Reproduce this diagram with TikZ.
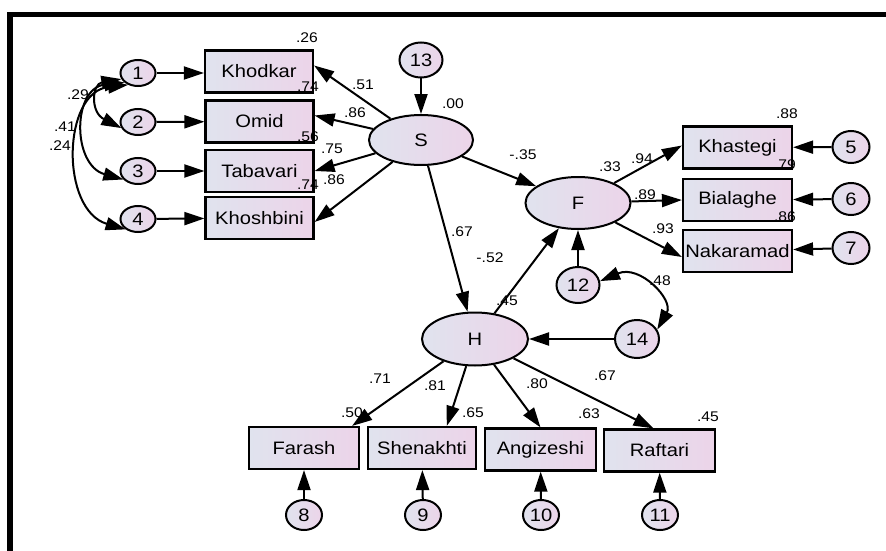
\documentclass[tikz,border=0pt]{standalone}
\usepackage{fontspec}
\setmainfont[FakeStretch=1.12]{Liberation Sans}
\usetikzlibrary{arrows.meta,shapes.geometric,calc}
\definecolor{bl}{RGB}{224,227,238}
\definecolor{pk}{RGB}{236,212,233}
\begin{document}
\begin{tikzpicture}[x=1pt,y=-1pt,
  obs/.style={draw, line width=2.2pt, rectangle, inner sep=0pt, minimum width=108pt, minimum height=42pt, left color=bl, right color=pk, font=\fontsize{18}{18}\selectfont},
  err/.style={draw, line width=2pt, ellipse, inner sep=0pt, minimum width=36pt, minimum height=30pt, left color=bl, right color=pk, font=\fontsize{18}{18}\selectfont},
  lat/.style={draw, line width=2pt, ellipse, inner sep=0pt, minimum width=105pt, minimum height=52pt, left color=bl, right color=pk, font=\fontsize{18}{18}\selectfont},
  lbl/.style={font=\fontsize{14}{14}\selectfont, inner sep=0pt},
  arr/.style={line width=2pt, -{Triangle[length=20pt,width=13pt]}},
  dbl/.style={line width=2pt, {Triangle[length=20pt,width=13pt]}-{Triangle[length=20pt,width=13pt]}}]
\useasboundingbox (0,0) rectangle (886,551);
\draw[line width=5.5pt] (10,551) -- (10,14.5) -- (886,14.5);

% observed boxes
\node[obs] (Kh) at (259,71.5) {Khodkar};
\node[obs] (Om) at (259.5,121.5) {Omid};
\node[obs] (Tb) at (259.5,171) {Tabavari};
\node[obs] (Ks) at (259.5,218) {Khoshbini};
\node[obs,minimum width=109pt] (Kg) at (737.5,147.5) {Khastegi};
\node[obs,minimum width=109pt] (Bi) at (737.5,200) {Bialaghe};
\node[obs,minimum width=109pt] (Nk) at (737.5,251) {Nakaramad};
\node[obs,minimum width=110pt] (Fa) at (304,448) {Farash};
\node[obs] (Sh) at (422,448) {Shenakhti};
\node[obs,minimum width=111pt] (Ag) at (540.5,449.5) {Angizeshi};
\node[obs,minimum width=111pt] (Rf) at (659.5,450.5) {Raftari};

% latent
\node[lat,minimum width=104pt,minimum height=50pt] (S) at (421,140) {S};
\node[lat] (F) at (578,203) {F};
\node[lat,minimum width=106pt,minimum height=53pt] (H) at (475,339) {H};

% errors
\node[err,minimum width=35pt,minimum height=26pt] (e1) at (138,73) {1};
\node[err,minimum width=35pt,minimum height=26pt] (e2) at (138,122) {2};
\node[err,minimum width=35pt,minimum height=26pt] (e3) at (138,171) {3};
\node[err,minimum width=35pt,minimum height=26pt] (e4) at (138,219) {4};
\node[err,minimum width=37pt,minimum height=32pt] (e5) at (851,147) {5};
\node[err,minimum width=37pt,minimum height=32pt] (e6) at (851,199) {6};
\node[err,minimum width=37pt,minimum height=32pt] (e7) at (851,248) {7};
\node[err] (e8) at (304,515) {8};
\node[err] (e9) at (423,515) {9};
\node[err] (e10) at (541,515) {10};
\node[err] (e11) at (660,515) {11};
\node[err,minimum width=43pt,minimum height=36pt] (e12) at (578,285) {12};
\node[err,minimum width=43pt,minimum height=35pt] (e13) at (421,60) {13};
\node[err,minimum width=44pt,minimum height=38pt] (e14) at (637,339) {14};

% error arrows
\draw[arr] (e1) -- (Kh.west |- e1);
\draw[arr] (e2) -- (Om);
\draw[arr] (e3) -- (Tb);
\draw[arr] (e4) -- (Ks);
\draw[arr] (e5) -- (Kg);
\draw[arr] (e6) -- (Bi);
\draw[arr] (e7) -- (Nk);
\draw[arr] (e8) -- (Fa);
\draw[arr] (e9) -- (Sh);
\draw[arr] (e10) -- (Ag);
\draw[arr] (e11) -- (Rf);
\draw[arr] (e13) -- (S);
\draw[arr] (e12) -- (F);
\draw[arr] (e14) -- (H);

% loadings
\draw[arr] (S) -- ($(Kh.east)+(0,-6)$);
\draw[arr] (S) -- ($(Om.east)+(0,-6)$);
\draw[arr] (S) -- (Tb.east);
\draw[arr] (S) -- ($(Ks.east)+(0,4)$);
\draw[arr] (F) -- ($(Kg.west)+(0,-2)$);
\draw[arr] (F) -- (Bi.west);
\draw[arr] (F) -- ($(Nk.west)+(0,6)$);
\draw[arr] (H) -- ($(Fa.north east)+(-8,0)$);
\draw[arr] (H) -- ($(Sh.north)!0.45!(Sh.north east)$);
\draw[arr] (H) -- (Ag.north);
\draw[arr] (H) -- ($(Rf.north)+(-6,0)$);

% structural
\draw[arr] (S) -- (F);
\draw[arr] (S) -- (H);
\draw[arr] (H) -- (F);

% covariances
\draw[dbl] (e1.200) .. controls (92,84) and (90,112) .. (e2.200);
\draw[dbl] (e1.215) .. controls (72,88) and (72,165) .. (e3.210);
\draw[dbl] (e1.230) .. controls (62,92) and (60,210) .. (e4.220);
\draw[dbl] (e12.10) .. controls (640,264) and (674,300) .. (e14.25);

% labels
\node[lbl] (l1) at (307,38) {.26};
\node[lbl] (l2) at (308,87) {.74};
\node[lbl] (l3) at (308,137) {.56};
\node[lbl] (l4) at (308,185) {.74};
\node[lbl] (l5) at (363,85) {.51};
\node[lbl] (l6) at (355,113) {.86};
\node[lbl] (l7) at (332,149) {.75};
\node[lbl] (l8) at (334,180) {.86};
\node[lbl] (l9) at (78,95) {.29};
\node[lbl] (l10) at (65,127) {.41};
\node[lbl] (l11) at (60,146) {.24};
\node[lbl] (l12) at (453,104) {.00};
\node[lbl] (l13) at (523,155) {-.35};
\node[lbl] (l14) at (610,167) {.33};
\node[lbl] (l15) at (642,159) {.94};
\node[lbl] (l16) at (645,195) {.89};
\node[lbl] (l17) at (663,229) {.93};
\node[lbl] (l18) at (787,114) {.88};
\node[lbl] (l19) at (785,165) {.79};
\node[lbl] (l20) at (785,217) {.86};
\node[lbl] (l21) at (462,232) {.67};
\node[lbl] (l22) at (490,258) {-.52};
\node[lbl] (l23) at (507,301) {.45};
\node[lbl] (l24) at (660,281) {.48};
\node[lbl] (l25) at (380,379) {.71};
\node[lbl] (l26) at (435,386) {.81};
\node[lbl] (l27) at (537,384) {.80};
\node[lbl] (l28) at (605,376) {.67};
\node[lbl] (l29) at (352,413) {.50};
\node[lbl] (l30) at (473,413) {.65};
\node[lbl] (l31) at (589,414) {.63};
\node[lbl] (l32) at (708,417) {.45};
\end{tikzpicture}
\end{document}
